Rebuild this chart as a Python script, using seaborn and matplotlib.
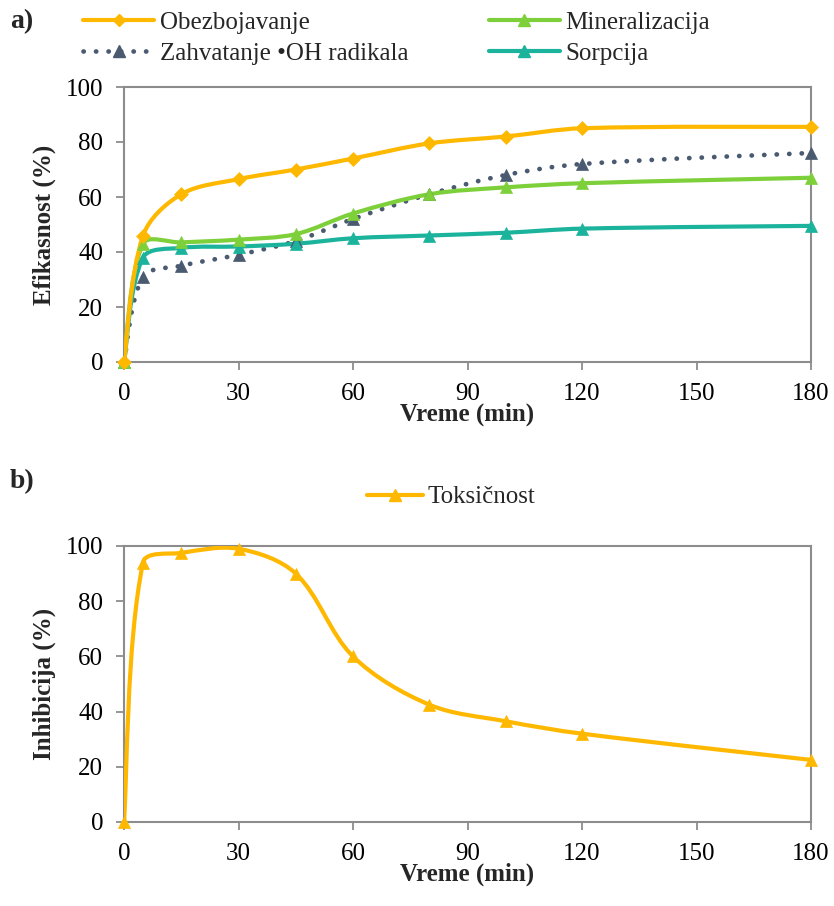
import matplotlib
matplotlib.use('Agg')
import matplotlib.pyplot as plt
import numpy as np
import seaborn as sns
from matplotlib.path import Path
from matplotlib.patches import PathPatch
from matplotlib.lines import Line2D

sns.set_style('white')
plt.rcParams['font.family'] = ['Liberation Serif', 'DejaVu Serif']

# time points (min)
vreme = [0, 5, 15, 30, 45, 60, 80, 100, 120, 180]

# panel a) efficiency (%)
obezbojavanje = [0, 46, 61, 66.5, 70, 74, 79.5, 82, 85, 85.5]
mineralizacija = [0, 43, 43.5, 44.5, 46.5, 54, 61, 63.5, 65, 67]
zahvatanje_oh = [0, 31, 35, 39, 44, 52, 61, 68, 72, 76]
sorpcija = [0, 38, 41.5, 42, 43, 45, 46, 47, 48.5, 49.5]

# panel b) inhibition (%)
toksicnost = [0, 94, 97.5, 99, 90, 60, 42.5, 36.5, 32, 22.5]

C_ORANGE = '#FFB800'
C_GREEN = '#7ED03B'
C_TEAL = '#1CB39D'
C_DARK = '#4A5A70'
GRID = '#8C8C8C'
FS = 18


def smooth_path(ax, x, y, t=1 / 3):
    # smoothed line like Excel: cubic Bezier through the points, built in pixel space
    p = ax.transData.transform(np.column_stack([x, y]).astype(float))
    n = len(p)
    d = np.linalg.norm(np.diff(p, axis=0), axis=1)
    verts = [p[0]]
    codes = [Path.MOVETO]
    for i in range(n - 1):
        if i > 0:
            c1 = p[i] + (p[i + 1] - p[i - 1]) * d[i] / (d[i - 1] + d[i]) * t
        else:
            c1 = p[i] + (p[i + 1] - p[i]) * t / 2
        if i + 2 < n:
            c2 = p[i + 1] - (p[i + 2] - p[i]) * d[i] / (d[i] + d[i + 1]) * t
        else:
            c2 = p[i + 1] - (p[i + 1] - p[i]) * t / 2
        verts += [c1, c2, p[i + 1]]
        codes += [Path.CURVE4] * 3
    verts = ax.transData.inverted().transform(np.array(verts))
    return Path(verts, codes)


def draw_series(ax, y, color, marker, ms, ls='-', lw=3.0):
    patch = PathPatch(smooth_path(ax, vreme, y), fill=False, edgecolor=color,
                      linewidth=lw, linestyle=ls, capstyle='round', zorder=3)
    ax.add_patch(patch)
    sns.scatterplot(x=vreme, y=y, ax=ax, marker=marker, s=ms, color=color,
                    edgecolor=color, linewidth=0.5, zorder=4, legend=False, clip_on=False)


def style_axes(ax, ylabel):
    ax.set_xlim(0, 180)
    ax.set_ylim(0, 100)
    ax.set_xticks(np.arange(0, 181, 30))
    ax.set_yticks(np.arange(0, 101, 20))
    for s in ax.spines.values():
        s.set_color(GRID)
        s.set_linewidth(1.5)
    ax.tick_params(axis='both', direction='out', length=6, width=1.3, color=GRID,
                   labelsize=FS, labelcolor='black', bottom=True, left=True)
    ax.tick_params(axis='x', pad=9)
    ax.tick_params(axis='y', pad=9)
    ax.set_xlabel('Vreme (min)', fontsize=FS, fontweight='bold', labelpad=-1.5)
    ax.set_ylabel(ylabel, fontsize=FS, fontweight='bold', labelpad=7)


fig = plt.figure(figsize=(8.34, 9.06), dpi=100)
W, H = 834, 906
ax1 = fig.add_axes([124 / W, 1 - 362 / H, (811 - 124) / W, (362 - 87) / H])
ax2 = fig.add_axes([124 / W, 1 - 822 / H, (811 - 124) / W, (822 - 546) / H])
style_axes(ax1, 'Efikasnost (%)')
style_axes(ax2, 'Inhibicija (%)')

DOT = (0, (0.05, 2.6))
draw_series(ax1, zahvatanje_oh, C_DARK, '^', 75, ls=DOT, lw=3.4)
draw_series(ax1, sorpcija, C_TEAL, '^', 75)
draw_series(ax1, mineralizacija, C_GREEN, '^', 75)
draw_series(ax1, obezbojavanje, C_ORANGE, 'D', 50)

draw_series(ax2, toksicnost, C_ORANGE, '^', 75)

h_ob = Line2D([], [], color=C_ORANGE, lw=3, marker='D', ms=6, solid_capstyle='round')
h_zh = Line2D([], [], color=C_DARK, lw=3.4, ls=DOT, dash_capstyle='round',
              marker='^', ms=9)
h_mi = Line2D([], [], color=C_GREEN, lw=3, marker='^', ms=9, solid_capstyle='round')
h_so = Line2D([], [], color=C_TEAL, lw=3, marker='^', ms=9, solid_capstyle='round')
h_to = Line2D([], [], color=C_ORANGE, lw=3, marker='^', ms=9, solid_capstyle='round')

fig.legend([h_ob, h_zh, h_mi, h_so],
           ['Obezbojavanje', 'Zahvatanje •OH radikala', 'Mineralizacija', 'Sorpcija'],
           ncol=2, loc='upper left', bbox_to_anchor=(83 / W, 1 - 11 / H),
           frameon=False, fontsize=FS, handlelength=2.84, handletextpad=0.24,
           columnspacing=3.2, labelspacing=0.36, borderpad=0, borderaxespad=0)
fig.legend([h_to], ['Toksičnost'], loc='center left', bbox_to_anchor=(367 / W, 1 - 497 / H),
           frameon=False, fontsize=FS, handlelength=2.24, handletextpad=0.16,
           borderpad=0, borderaxespad=0)

fig.text(10 / W, 1 - 22 / H, 'a)', fontsize=20, fontweight='bold', va='center')
fig.text(10 / W, 1 - 482 / H, 'b)', fontsize=20, fontweight='bold', va='center')

fig.savefig('out.png', dpi=100)
